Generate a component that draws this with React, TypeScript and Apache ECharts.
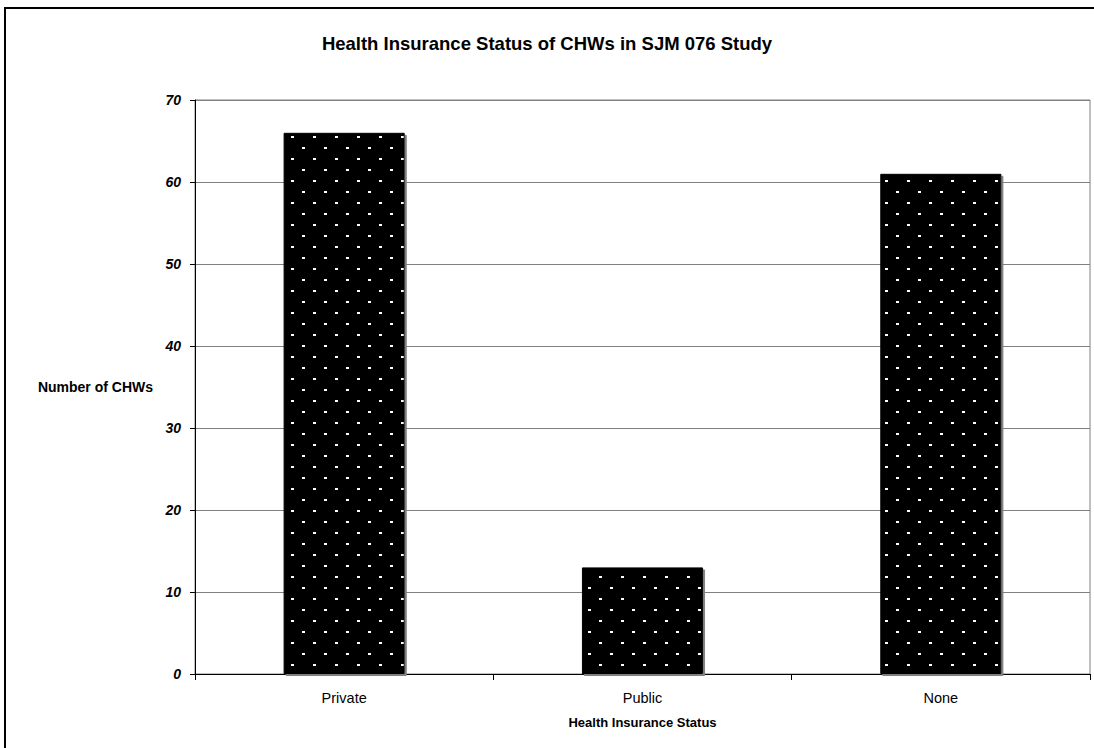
import React, { useEffect, useRef } from "react";
import * as echarts from "echarts";

const categories = ["Private", "Public", "None"];
const values = [66, 13, 61];
const yTicks = [0, 10, 20, 30, 40, 50, 60, 70];

function makePattern(): HTMLCanvasElement {
  const c = document.createElement("canvas");
  c.width = 22;
  c.height = 22;
  const ctx = c.getContext("2d")!;
  ctx.fillStyle = "#000";
  ctx.fillRect(0, 0, 22, 22);
  ctx.fillStyle = "#fff";
  ctx.fillRect(5, 4, 3, 2);
  ctx.fillRect(16, 15, 3, 2);
  return c;
}

export default function App() {
  const ref = useRef<HTMLDivElement>(null);
  useEffect(() => {
    document.body.style.margin = "0";
    const chart = echarts.init(ref.current!, null, { renderer: "svg" });
    const font = "Arial, 'Liberation Sans', sans-serif";
    chart.setOption({
      animation: false,
      backgroundColor: "#fff",
      textStyle: { fontFamily: font },
      title: {
        text: "Health Insurance Status of CHWs in SJM 076 Study",
        left: 542,
        textAlign: "center",
        top: 29,
        textStyle: { fontSize: 18.5, fontWeight: "bold", color: "#000", fontFamily: font },
      },
      graphic: [
        {
          type: "rect",
          shape: { x: 5, y: 8, width: 1100, height: 760 },
          style: { fill: "none", stroke: "#000", lineWidth: 2 },
          silent: true,
        },
      ],
      grid: { left: 195, right: 4, top: 100, bottom: 74, show: true, borderColor: "#808080", borderWidth: 1 },
      xAxis: {
        type: "category",
        data: categories,
        name: "Health Insurance Status",
        nameLocation: "middle",
        nameGap: 42,
        nameTextStyle: { fontSize: 13, fontWeight: "bold", color: "#000" },
        axisLine: { lineStyle: { color: "#000", width: 1 } },
        axisTick: { show: true, length: 6, lineStyle: { color: "#000" } },
        axisLabel: { fontSize: 14.5, color: "#000", margin: 16 },
      },
      yAxis: {
        type: "value",
        min: yTicks[0],
        max: yTicks[yTicks.length - 1],
        interval: 10,
        name: "Number of CHWs",
        nameLocation: "middle",
        nameRotate: 0,
        nameGap: 42,
        nameTextStyle: { fontSize: 14, fontWeight: "bold", color: "#000" },
        axisLine: { show: true, lineStyle: { color: "#000", width: 1 } },
        axisTick: { show: true, length: 5, lineStyle: { color: "#000" } },
        axisLabel: { fontSize: 14, fontWeight: "bold", fontStyle: "italic", color: "#000", margin: 14 },
        splitLine: { show: true, lineStyle: { color: "#808080", width: 1 } },
      },
      series: [
        {
          type: "bar",
          data: values,
          barWidth: "40.6%",
          itemStyle: {
            color: { image: makePattern(), repeat: "repeat" },
            borderColor: "#000",
            borderWidth: 1,
            shadowColor: "#808080",
            shadowOffsetX: 2,
            shadowOffsetY: 2,
            shadowBlur: 0,
          },
        },
      ],
    });
    return () => chart.dispose();
  }, []);
  return <div ref={ref} style={{ width: 1094, height: 748 }} />;
}
